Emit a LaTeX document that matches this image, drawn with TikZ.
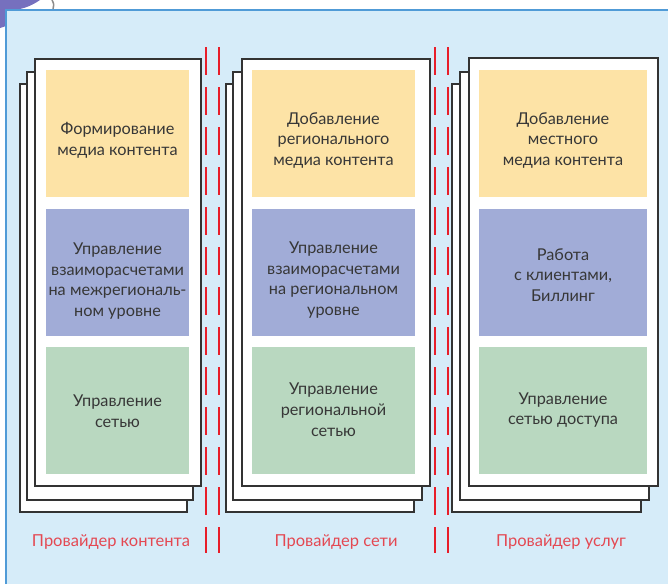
\documentclass[tikz,border=0pt]{standalone}
\usepackage{fontspec}
\setmainfont{Lato}
\definecolor{bgblue}{RGB}{214,236,249}
\definecolor{edgeblue}{RGB}{80,155,215}
\definecolor{boxyellow}{RGB}{253,227,166}
\definecolor{boxblue}{RGB}{161,172,215}
\definecolor{boxgreen}{RGB}{185,216,192}
\definecolor{sepred}{RGB}{232,30,42}
\definecolor{labred}{RGB}{228,72,82}
\definecolor{txtgray}{RGB}{55,55,55}
\definecolor{blobpurple}{RGB}{118,112,190}
\begin{document}
\begin{tikzpicture}[x=1pt, y=-1pt]
\tikzstyle{page}=[draw=black!80, line width=1.3pt, fill=white];
\tikzstyle{cell}=[minimum height=127pt, inner sep=0pt];
\tikzstyle{celltext}=[align=center, text=txtgray, font=\fontsize{16.3}{20.8}\selectfont];
\tikzstyle{sep}=[draw=sepred, line width=2pt, dash pattern=on 28pt off 12pt];
\tikzstyle{caption}=[text=labred, font=\fontsize{16.5}{18}\selectfont];
\useasboundingbox (0,0) rectangle (668,584);
% background
\fill[white] (0,0) rectangle (668,584);
\fill[blobpurple] (0,0) -- (40,0) .. controls (30,7) and (20,10) .. (10,10) -- (6,10) -- (6,26) -- (0,28) -- cycle;
\draw[black!45, line width=1.5pt] (52,0) .. controls (54,4) .. (53,9);
\fill[bgblue] (6,10) rectangle (668,584);
\draw[edgeblue, line width=1.2pt] (6,584) -- (6,10) -- (668,10);
% stacked pages
\draw[page] (20,84) rectangle (187,512);
\draw[page] (27,72) rectangle (193,500);
\draw[page] (35,59) rectangle (201,486);
\draw[page] (226,84) rectangle (414,512);
\draw[page] (233,72) rectangle (422,500);
\draw[page] (242,59) rectangle (430,486);
\draw[page] (452,84) rectangle (641,512);
\draw[page] (460,72) rectangle (649,500);
\draw[page] (469,58) rectangle (658,486);
% cells
\node[cell, fill=boxyellow, minimum width=143pt,
  label={[celltext, yshift=-7pt]center:{Формирование\\медиа контента}}] (f1) at (117.5,133.5) {};
\node[cell, fill=boxblue, minimum width=143pt,
  label={[celltext, yshift=-9pt]center:{Управление\\взаиморасчетами\\на межрегиональ-\\ном уровне}}] (u1) at (117.5,272) {};
\node[cell, fill=boxgreen, minimum width=143pt,
  label={[celltext, yshift=-1pt]center:{Управление\\сетью}}] (s1) at (117.5,410) {};
\node[cell, fill=boxyellow, minimum width=163pt,
  label={[celltext, yshift=-7pt]center:{Добавление\\регионального\\медиа контента}}] (f2) at (333.5,133.5) {};
\node[cell, fill=boxblue, minimum width=163pt,
  label={[celltext, yshift=-8pt]center:{Управление\\взаиморасчетами\\на региональном\\уровне}}] (u2) at (333.5,272) {};
\node[cell, fill=boxgreen, minimum width=163pt,
  label={[celltext]center:{Управление\\региональной\\сетью}}] (s2) at (333.5,410) {};
\node[cell, fill=boxyellow, minimum width=168pt,
  label={[celltext, yshift=-7pt]center:{Добавление\\местного\\медиа контента}}] (f3) at (563,133.5) {};
\node[cell, fill=boxblue, minimum width=168pt,
  label={[celltext, yshift=-3pt]center:{Работа\\с клиентами,\\Биллинг}}] (u3) at (563,272) {};
\node[cell, fill=boxgreen, minimum width=168pt,
  label={[celltext]center:{Управление\\сетью доступа}}] (s3) at (563,410) {};
% dividers
\draw[sep] (206,47) -- (206,553);
\draw[sep] (219,47) -- (219,553);
\draw[sep] (435,47) -- (435,553);
\draw[sep] (448,47) -- (448,553);
% captions
\node[caption] (p1) at (111,542) {Провайдер контента};
\node[caption] (p2) at (336,542) {Провайдер сети};
\node[caption] (p3) at (561,542) {Провайдер услуг};
\end{tikzpicture}
\end{document}
